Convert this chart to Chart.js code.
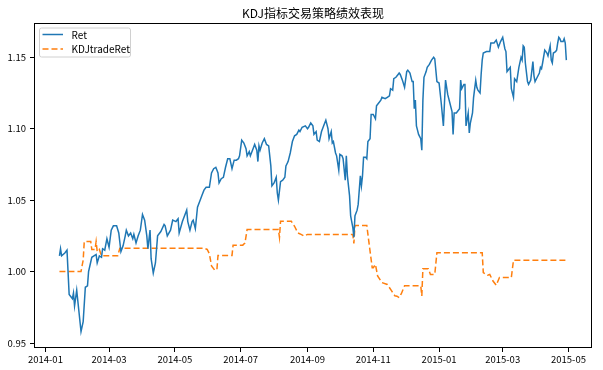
<!DOCTYPE html>
<html>
<head>
<meta charset="utf-8">
<script src="https://cdn.jsdelivr.net/npm/chart.js@4.4.1/dist/chart.umd.min.js"></script>
<style>
  html, body { margin: 0; padding: 0; background: #fff; }
  #wrap { width: 603px; height: 370px; }
</style>
</head>
<body>
<div id="wrap"><canvas id="chart" width="603" height="370"></canvas></div>
<script>
/* ── DATA ── */
const retDates = [
  '2014-01-14','2014-01-15','2014-01-16','2014-01-19','2014-01-21','2014-01-23','2014-01-26','2014-01-27','2014-01-28','2014-01-30',
  '2014-02-03','2014-02-05','2014-02-07','2014-02-09','2014-02-10','2014-02-13','2014-02-15','2014-02-17','2014-02-18','2014-02-20','2014-02-22','2014-02-23','2014-02-25','2014-02-27',
  '2014-03-01','2014-03-03','2014-03-05','2014-03-08','2014-03-10','2014-03-12','2014-03-14','2014-03-16','2014-03-17','2014-03-19','2014-03-21','2014-03-23','2014-03-24','2014-03-26','2014-03-28','2014-03-30',
  '2014-04-01','2014-04-03','2014-04-05','2014-04-06','2014-04-08','2014-04-09','2014-04-11','2014-04-13','2014-04-15','2014-04-18','2014-04-21','2014-04-22','2014-04-24','2014-04-27','2014-04-29',
  '2014-05-02','2014-05-04','2014-05-05','2014-05-08','2014-05-10','2014-05-12','2014-05-13','2014-05-15','2014-05-17','2014-05-18','2014-05-20','2014-05-22','2014-05-24','2014-05-26','2014-05-28','2014-05-30',
  '2014-06-02','2014-06-04','2014-06-06','2014-06-08','2014-06-10','2014-06-11','2014-06-13','2014-06-15','2014-06-17','2014-06-19','2014-06-21','2014-06-23','2014-06-25','2014-06-27','2014-06-29','2014-06-30',
  '2014-07-02','2014-07-04','2014-07-06','2014-07-07','2014-07-09','2014-07-10','2014-07-12','2014-07-14','2014-07-16','2014-07-17','2014-07-18','2014-07-19','2014-07-21','2014-07-23','2014-07-25','2014-07-27','2014-07-29','2014-07-30',
  '2014-08-01','2014-08-03','2014-08-04','2014-08-05','2014-08-07','2014-08-09','2014-08-11','2014-08-12','2014-08-14','2014-08-16','2014-08-18','2014-08-20','2014-08-22','2014-08-24','2014-08-25','2014-08-27','2014-08-30',
  '2014-09-01','2014-09-02','2014-09-04','2014-09-06','2014-09-07','2014-09-09','2014-09-10','2014-09-12','2014-09-14','2014-09-16','2014-09-18','2014-09-20','2014-09-21','2014-09-23','2014-09-24','2014-09-25','2014-09-27','2014-09-28','2014-09-30',
  '2014-10-01','2014-10-03','2014-10-04','2014-10-06','2014-10-07','2014-10-08','2014-10-10','2014-10-11','2014-10-13','2014-10-14','2014-10-15','2014-10-16','2014-10-17','2014-10-18','2014-10-20','2014-10-21','2014-10-22','2014-10-23','2014-10-25','2014-10-26','2014-10-27','2014-10-29','2014-10-30',
  '2014-11-01','2014-11-03','2014-11-04','2014-11-06','2014-11-08','2014-11-09','2014-11-12','2014-11-14','2014-11-16','2014-11-17','2014-11-19','2014-11-20','2014-11-22','2014-11-24','2014-11-25','2014-11-26','2014-11-28','2014-11-30',
  '2014-12-02','2014-12-03','2014-12-05','2014-12-07','2014-12-08','2014-12-09','2014-12-10','2014-12-11','2014-12-12','2014-12-13','2014-12-15','2014-12-16','2014-12-17','2014-12-18','2014-12-20','2014-12-21','2014-12-23','2014-12-25','2014-12-27','2014-12-28','2014-12-30',
  '2015-01-01','2015-01-03','2015-01-05','2015-01-06','2015-01-07','2015-01-09','2015-01-11','2015-01-13','2015-01-14','2015-01-15','2015-01-17','2015-01-20','2015-01-21','2015-01-22','2015-01-24','2015-01-25','2015-01-26','2015-01-28','2015-01-29','2015-01-30',
  '2015-02-01','2015-02-02','2015-02-04','2015-02-05','2015-02-06','2015-02-08','2015-02-09','2015-02-10','2015-02-11','2015-02-14','2015-02-17','2015-02-18','2015-02-20','2015-02-21','2015-02-23','2015-02-25','2015-02-27',
  '2015-03-01','2015-03-03','2015-03-04','2015-03-05','2015-03-07','2015-03-08','2015-03-09','2015-03-11','2015-03-12','2015-03-14','2015-03-16','2015-03-18','2015-03-19','2015-03-20','2015-03-21','2015-03-22','2015-03-24','2015-03-25','2015-03-27','2015-03-29','2015-03-30','2015-03-31',
  '2015-04-02','2015-04-04','2015-04-05','2015-04-06','2015-04-07','2015-04-09','2015-04-11','2015-04-12','2015-04-14','2015-04-15','2015-04-16','2015-04-17','2015-04-19','2015-04-20','2015-04-21','2015-04-22','2015-04-23','2015-04-24','2015-04-26','2015-04-27','2015-04-28','2015-04-29'
];
const retValues = [
  1.011,1.016,1.011,1.013,1.015,0.984,0.981,0.985,0.976,0.987,
  0.958,0.965,0.989,0.990,1.000,1.010,1.011,1.012,1.006,1.011,1.010,1.016,1.015,1.023,
  1.017,1.029,1.032,1.032,1.027,1.014,1.018,1.025,1.029,1.025,1.027,1.023,1.026,1.020,1.025,1.029,
  1.040,1.036,1.025,1.016,1.029,1.009,0.999,1.006,1.025,1.028,1.033,1.032,1.025,1.029,1.036,
  1.035,1.037,1.027,1.035,1.039,1.043,1.035,1.029,1.035,1.036,1.030,1.045,1.049,1.053,1.057,1.059,
  1.059,1.069,1.072,1.073,1.069,1.062,1.065,1.066,1.073,1.079,1.079,1.072,1.078,1.078,1.079,1.081,
  1.092,1.090,1.086,1.081,1.084,1.081,1.085,1.089,1.085,1.077,1.088,1.085,1.090,1.093,1.089,1.088,1.074,1.060,
  1.062,1.066,1.055,1.050,1.063,1.064,1.066,1.074,1.077,1.083,1.091,1.095,1.096,1.099,1.098,1.101,1.102,
  1.100,1.101,1.104,1.102,1.096,1.098,1.092,1.091,1.098,1.102,1.106,1.100,1.093,1.098,1.090,1.091,1.083,1.081,1.071,
  1.082,1.081,1.079,1.064,1.081,1.067,1.053,1.039,1.031,1.024,1.039,1.041,1.043,1.047,1.067,1.060,1.067,1.080,1.080,1.079,1.091,1.093,1.110,
  1.110,1.107,1.116,1.118,1.120,1.122,1.121,1.122,1.123,1.128,1.127,1.135,1.136,1.138,1.139,1.138,1.134,1.129,
  1.140,1.141,1.139,1.133,1.133,1.114,1.120,1.102,1.099,1.096,1.093,1.085,1.120,1.136,1.140,1.143,1.145,1.148,1.150,1.149,1.133,
  1.132,1.118,1.102,1.118,1.134,1.124,1.118,1.112,1.096,1.111,1.111,1.114,1.134,1.128,1.131,1.131,1.102,1.111,1.097,1.104,
  1.111,1.122,1.134,1.129,1.127,1.125,1.138,1.148,1.153,1.154,1.154,1.160,1.160,1.160,1.162,1.157,1.161,
  1.164,1.156,1.154,1.140,1.142,1.143,1.128,1.122,1.135,1.133,1.143,1.150,1.148,1.158,1.157,1.146,1.133,1.131,1.134,1.147,1.137,1.133,
  1.136,1.139,1.143,1.142,1.146,1.155,1.153,1.151,1.158,1.148,1.146,1.153,1.154,1.155,1.160,1.164,1.163,1.161,1.161,1.163,1.160,1.148
];

const tradeDates = [
  '2014-01-14','2014-02-03','2014-02-05','2014-02-06','2014-02-12','2014-02-13','2014-02-16','2014-02-17','2014-02-18','2014-02-20','2014-02-22',
  '2014-03-09','2014-03-11','2014-05-28','2014-05-31','2014-06-02','2014-06-04','2014-06-07','2014-06-09','2014-06-10','2014-06-23','2014-06-24',
  '2014-07-03','2014-07-05','2014-07-07','2014-08-05','2014-08-06','2014-08-07','2014-08-17','2014-08-20','2014-08-23','2014-08-26','2014-08-29',
  '2014-09-01','2014-10-13','2014-10-14','2014-10-15','2014-10-26','2014-10-28','2014-10-31','2014-11-01','2014-11-03','2014-11-05','2014-11-09',
  '2014-11-14','2014-11-18','2014-11-21','2014-11-23','2014-11-25','2014-11-27','2014-11-30','2014-12-15','2014-12-16','2014-12-17','2014-12-22',
  '2014-12-24','2014-12-28','2014-12-30','2015-02-10','2015-02-11','2015-02-15','2015-02-17','2015-02-20','2015-02-23','2015-02-26','2015-03-09',
  '2015-03-11','2015-04-29'
];
const tradeValues = [
  1.000,1.000,1.008,1.021,1.021,1.0155,1.0155,1.021,1.014,1.0155,1.011,
  1.011,1.0163,1.0163,1.0155,1.0125,1.004,1.001,1.0013,1.0113,1.0113,1.0185,
  1.0185,1.020,1.0294,1.0294,1.0240,1.0352,1.0352,1.0317,1.0271,1.026,1.0248,
  1.026,1.026,1.0197,1.0322,1.0322,1.0202,1.0027,1.0027,1.005,0.997,0.9923,
  0.991,0.9865,0.983,0.9828,0.9818,0.9845,0.990,0.990,0.983,1.002,1.002,
  0.998,0.998,1.0132,1.0132,0.9993,0.9974,0.998,0.9934,0.9904,0.9958,0.9958,
  1.008,1.008
];

const chartTitle = 'KDJ指标交易策略绩效表现';
const xTickLabels = ['2014-01','2014-03','2014-05','2014-07','2014-09','2014-11','2015-01','2015-03','2015-05'];
const yTickValues = [0.95, 1.00, 1.05, 1.10, 1.15];

/* ── HELPERS ── */
const FONT = '"Noto Sans CJK SC", "Noto Sans", sans-serif';
// days since 2014-01-01
function dayOf(s) {
  const p = s.split('-').map(Number);
  return (Date.UTC(p[0], p[1] - 1, p[2] || 1) - Date.UTC(2014, 0, 1)) / 86400000;
}
const toPoints = (dates, vals) => dates.map((d, i) => ({ x: dayOf(d), y: vals[i] }));

/* ── TITLE + FRAME + LEGEND (matplotlib look) ── */
const mplFrame = {
  id: 'mplFrame',
  afterDraw(chart) {
    const { ctx, chartArea: a } = chart;
    ctx.save();

    // title centred over the axes
    ctx.fillStyle = '#000';
    ctx.font = '12px ' + FONT;
    ctx.textAlign = 'center';
    ctx.textBaseline = 'middle';
    ctx.fillText(chartTitle, (a.left + a.right) / 2, 13);

    ctx.strokeStyle = '#000';
    ctx.lineWidth = 1;
    ctx.strokeRect(Math.round(a.left) + 0.5, Math.round(a.top) + 0.5,
                   Math.round(a.right - a.left) - 1, Math.round(a.bottom - a.top) - 1);

    // legend box
    const bx = a.left + 5, by = a.top + 4.5, bw = 91, bh = 29;
    ctx.beginPath();
    ctx.roundRect(bx + 0.5, by + 0.5, bw, bh, 2);
    ctx.fillStyle = 'rgba(255,255,255,0.8)';
    ctx.fill();
    ctx.strokeStyle = '#d0d0d0';
    ctx.stroke();

    ctx.font = '10px ' + FONT;
    ctx.textAlign = 'left';
    chart.data.datasets.forEach((ds, i) => {
      const y = by + 7 + i * 14.5;
      ctx.beginPath();
      ctx.setLineDash(ds.borderDash || []);
      ctx.strokeStyle = ds.borderColor;
      ctx.lineWidth = ds.borderWidth;
      ctx.moveTo(bx + 3.5, y);
      ctx.lineTo(bx + 24, y);
      ctx.stroke();
      ctx.setLineDash([]);
      ctx.fillStyle = '#000';
      ctx.fillText(ds.label, bx + 32.5, y + 0.5);
    });
    ctx.restore();
  }
};

/* ── CHART ── */
const ctx = document.getElementById('chart').getContext('2d');
new Chart(ctx, {
  type: 'line',
  data: {
    datasets: [
      {
        label: 'Ret',
        data: toPoints(retDates, retValues),
        borderColor: '#1f77b4',
        borderWidth: 1.5,
        pointRadius: 0,
        tension: 0,
        fill: false,
      },
      {
        label: 'KDJtradeRet',
        data: toPoints(tradeDates, tradeValues),
        borderColor: '#ff7f0e',
        borderWidth: 1.5,
        borderDash: [6, 3],
        pointRadius: 0,
        tension: 0,
        fill: false,
      },
    ],
  },
  options: {
    responsive: false,
    animation: false,
    layout: { padding: { left: 0, right: 11, top: 23, bottom: 0 } },
    plugins: {
      legend: { display: false },
      tooltip: { enabled: false },
      title: { display: false },
    },
    scales: {
      x: {
        type: 'linear',
        min: -10.6,
        max: 506.8,
        afterBuildTicks: s => { s.ticks = xTickLabels.map(m => ({ value: dayOf(m) })); },
        afterFit: s => { s.height = 22; },
        ticks: {
          autoSkip: false, maxRotation: 0, padding: 2,
          color: '#000', font: { family: FONT, size: 9.5 },
          callback: (v, i) => xTickLabels[i],
        },
        grid: { drawOnChartArea: false, drawTicks: true, tickLength: 4, color: '#000' },
        border: { display: false },
      },
      y: {
        min: 0.9465,
        max: 1.174,
        afterBuildTicks: s => { s.ticks = yTickValues.map(v => ({ value: v })); },
        afterFit: s => { s.width = 34; },
        ticks: {
          padding: 4,
          color: '#000', font: { family: FONT, size: 9.5 },
          callback: v => v.toFixed(2),
        },
        grid: { drawOnChartArea: false, drawTicks: true, tickLength: 4, color: '#000' },
        border: { display: false },
      },
    },
  },
  plugins: [mplFrame],
});
</script>
</body>
</html>
